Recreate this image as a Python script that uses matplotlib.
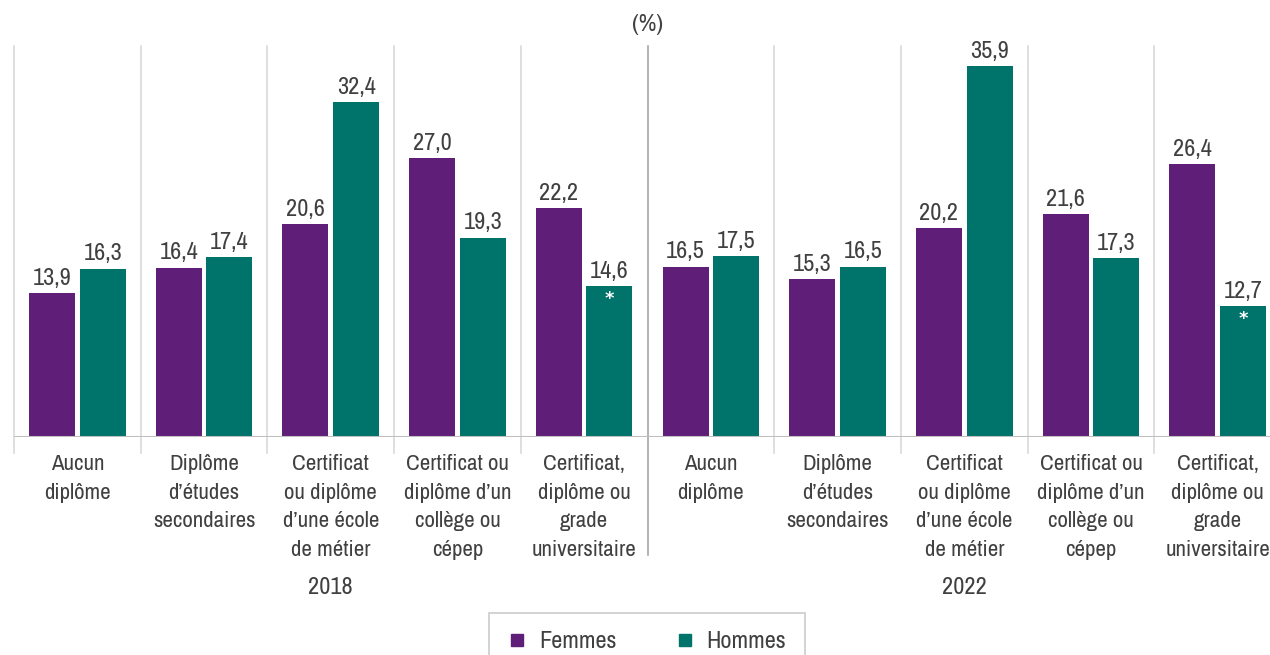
import matplotlib
matplotlib.use("Agg")
import matplotlib.pyplot as plt
from matplotlib.lines import Line2D
import matplotlib.transforms as mtransforms

plt.rcParams['font.family'] = ['Archivo Narrow', 'Liberation Sans', 'DejaVu Sans']

categories = ["Aucun\ndiplôme", "Diplôme\nd’études\nsecondaires",
              "Certificat\nou diplôme\nd’une école\nde métier",
              "Certificat ou\ndiplôme d’un\ncollège ou\ncépep",
              "Certificat,\ndiplôme ou\ngrade\nuniversitaire"]
years = ["2018", "2022"]
femmes = [13.9, 16.4, 20.6, 27.0, 22.2, 16.5, 15.3, 20.2, 21.6, 26.4]
hommes = [16.3, 17.4, 32.4, 19.3, 14.6, 17.5, 16.5, 35.9, 17.3, 12.7]
hommes_star = [False, False, False, False, True, False, False, False, False, True]

PURPLE = "#5F1E78"
TEAL = "#00736B"
TXT = "#404040"
FS = 17.5
FS_CAT = 16.5

fig = plt.figure(figsize=(12.7, 6.55), dpi=100)
ax = fig.add_axes([14/1270, 218/655, 1267/1270, 391/655])
n = len(femmes)
ax.set_xlim(-0.5, n - 0.5)
ax.set_ylim(0, 37.85)
for s in ax.spines.values():
    s.set_visible(False)
ax.set_xticks([])
ax.set_yticks([])

w = 0.363
xs = list(range(n))
ax.bar([x - 0.2 for x in xs], femmes, w, color=PURPLE, zorder=3)
ax.bar([x + 0.2 for x in xs], hommes, w, color=TEAL, zorder=3)

def fmt(v):
    return f"{v:.1f}".replace(".", ",")

for x, v in zip(xs, femmes):
    ax.annotate(fmt(v), (x - 0.2, v), xytext=(0, 3), textcoords="offset points",
                ha="center", va="bottom", fontsize=FS, color=TXT)
for x, v, st in zip(xs, hommes, hommes_star):
    ax.annotate(fmt(v), (x + 0.2, v), xytext=(0, 3), textcoords="offset points",
                ha="center", va="bottom", fontsize=FS, color=TXT)
    if st:
        ax.annotate("*", (x + 0.2, v), xytext=(0, -3), textcoords="offset points",
                    ha="center", va="top", fontsize=13, color="white",
                    fontweight="bold", family="DejaVu Sans", zorder=4)

trans = mtransforms.blended_transform_factory(ax.transData, ax.transAxes)
# category boundaries
for b in range(n):
    xb = b - 0.5
    if b == 5:
        ax.plot([xb, xb], [1, -0.302], transform=trans, color="#A6A6A6", lw=1.2,
                clip_on=False, zorder=2)
    else:
        ax.plot([xb, xb], [1, -0.04], transform=trans, color="#D9D9D9", lw=1.2,
                clip_on=False, zorder=2)
ax.axhline(0, color="#BFBFBF", lw=1.5, zorder=4)

labels = categories * len(years)
for x, lab in zip(xs, labels):
    ax.text(x, -0.043, lab, transform=trans, ha="center", va="top",
            fontsize=FS_CAT, color=TXT, linespacing=1.55)
for i, yr in enumerate(years):
    ax.text(i * 5 + 2, -0.385, yr, transform=trans, ha="center", va="center",
            fontsize=FS, color=TXT)

ax.text(4.5, 1.055, "(%)", transform=trans, ha="center", va="center",
        fontsize=FS, color=TXT)

handles = [Line2D([], [], marker="s", ls="none", color=PURPLE, markersize=9),
           Line2D([], [], marker="s", ls="none", color=TEAL, markersize=9)]
leg = fig.legend(handles, ["Femmes", "Hommes"], loc="upper center",
                 bbox_to_anchor=(647/1270, 1 - 613/655), ncol=2, frameon=True,
                 fancybox=False, edgecolor="#BFBFBF", fontsize=FS,
                 handlelength=0.8, handletextpad=0.5, columnspacing=2.4,
                 borderpad=0.75, borderaxespad=0, labelcolor=TXT)
leg.get_frame().set_linewidth(1.2)

fig.savefig("out.png", dpi=100)
